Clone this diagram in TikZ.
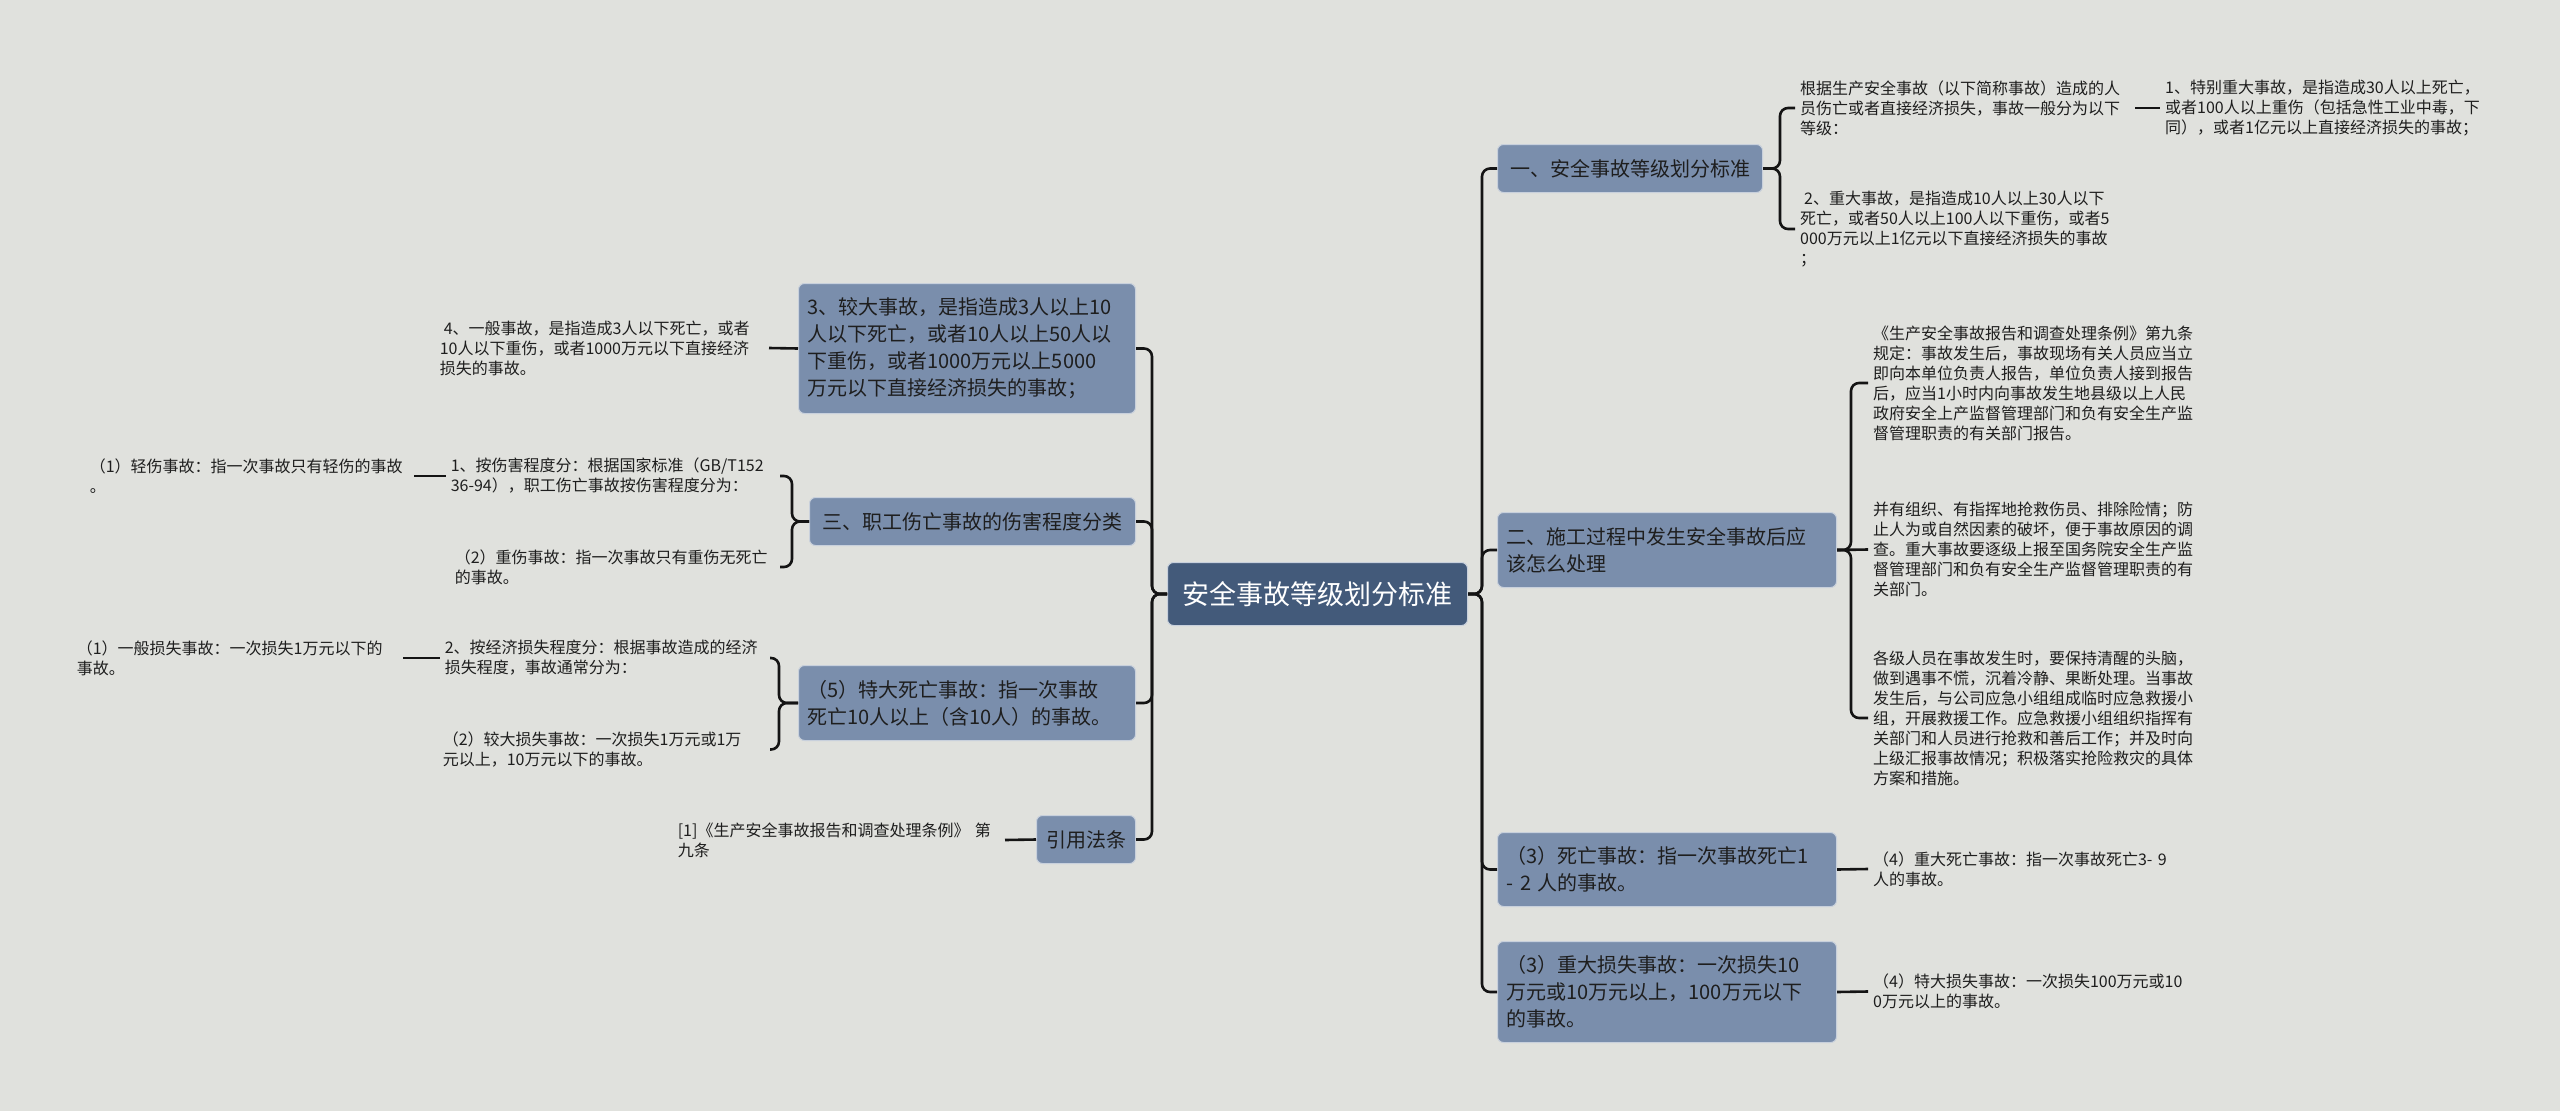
\documentclass[tikz,border=0pt]{standalone}
\usepackage{fontspec}
\setmainfont{Noto Sans CJK SC}
\definecolor{bgc}{RGB}{224,225,221}
\definecolor{nodefill}{RGB}{122,142,172}
\definecolor{nodeborder}{RGB}{200,208,220}
\definecolor{rootfill}{RGB}{67,90,122}
\definecolor{txt}{RGB}{30,30,30}
\definecolor{linec}{RGB}{20,20,20}
\tikzset{
  conn/.style={line width=2.6pt, draw=linec, rounded corners=8pt},
  box/.style={rectangle, rounded corners=6pt, fill=nodefill, draw=nodeborder, line width=1pt,
    text=txt, font=\fontsize{20}{27}\selectfont, inner xsep=9pt, inner ysep=3pt, align=left, anchor=north west},
  rootbox/.style={rectangle, rounded corners=6pt, fill=rootfill, draw=nodeborder, line width=1pt,
    text=white, font=\fontsize{27}{32}\selectfont, inner xsep=9pt, inner ysep=3pt, align=center, anchor=north west},
  leafr/.style={inner xsep=5pt, inner ysep=2pt, align=left, text=txt, font=\fontsize{16}{20}\selectfont, anchor=west, text width=330pt},
  leafl/.style={inner xsep=5pt, inner ysep=2pt, align=left, text=txt, font=\fontsize{16}{20}\selectfont, anchor=east},
}
\begin{document}
\begin{tikzpicture}[x=1pt,y=-1pt]
\fill[bgc] (0,0) rectangle (2560,1111);
\useasboundingbox (0,0) rectangle (2560,1111);

% root
\node[rootbox, minimum width=300pt, minimum height=63pt, text width=282pt] (root) at (1167,562) {安全事故等级划分标准};

% right branch nodes
\node[box, align=center, minimum width=265pt, minimum height=48pt, text width=247pt] (n1) at (1497,144) {一、安全事故等级划分标准};
\node[box, minimum width=339pt, minimum height=75pt, text width=321pt] (n2) at (1497,512) {二、施工过程中发生安全事故后应\\该怎么处理};
\node[box, minimum width=339pt, minimum height=74pt, text width=321pt] (n3) at (1497,832) {（3）死亡事故：指一次事故死亡1\\- 2 人的事故。};
\node[box, minimum width=339pt, minimum height=101pt, text width=321pt] (n4) at (1497,941) {（3）重大损失事故：一次损失10\\万元或10万元以上，100万元以下\\的事故。};

% right leaves
\node[leafr] (n1a) at (1795,108) {根据生产安全事故（以下简称事故）造成的人\\员伤亡或者直接经济损失，事故一般分为以下\\等级：};
\node[leafr] (n1a1) at (2160,108) {1、特别重大事故，是指造成30人以上死亡，\\或者100人以上重伤（包括急性工业中毒，下\\同），或者1亿元以上直接经济损失的事故；};
\node[leafr] (n1b) at (1795,229) {\hspace*{4pt}2、重大事故，是指造成10人以上30人以下\\死亡，或者50人以上100人以下重伤，或者5\\000万元以上1亿元以下直接经济损失的事故\\；};
\node[leafr] (n2a) at (1868,383) {《生产安全事故报告和调查处理条例》第九条\\规定：事故发生后，事故现场有关人员应当立\\即向本单位负责人报告，单位负责人接到报告\\后，应当1小时内向事故发生地县级以上人民\\政府安全上产监督管理部门和负有安全生产监\\督管理职责的有关部门报告。};
\node[leafr] (n2b) at (1868,549.5) {并有组织、有指挥地抢救伤员、排除险情；防\\止人为或自然因素的破坏，便于事故原因的调\\查。重大事故要逐级上报至国务院安全生产监\\督管理部门和负有安全生产监督管理职责的有\\关部门。};
\node[leafr] (n2c) at (1868,718) {各级人员在事故发生时，要保持清醒的头脑，\\做到遇事不慌，沉着冷静、果断处理。当事故\\发生后，与公司应急小组组成临时应急救援小\\组，开展救援工作。应急救援小组组织指挥有\\关部门和人员进行抢救和善后工作；并及时向\\上级汇报事故情况；积极落实抢险救灾的具体\\方案和措施。};
\node[leafr] (n3a) at (1868,869) {（4）重大死亡事故：指一次事故死亡3- 9\\人的事故。};
\node[leafr] (n4a) at (1868,991.5) {（4）特大损失事故：一次损失100万元或10\\0万元以上的事故。};

% left branch nodes
\node[box, minimum width=337pt, minimum height=130pt, text width=319pt] (L1) at (798,283) {3、较大事故，是指造成3人以上10\\人以下死亡，或者10人以上50人以\\下重伤，或者1000万元以上5000\\万元以下直接经济损失的事故；};
\node[box, align=center, minimum width=326pt, minimum height=48pt, text width=308pt] (L2) at (809,497) {三、职工伤亡事故的伤害程度分类};
\node[box, minimum width=337pt, minimum height=75pt, text width=319pt] (L3) at (798,665) {（5）特大死亡事故：指一次事故\\死亡10人以上（含10人）的事故。};
\node[box, align=center, minimum width=99pt, minimum height=48pt, text width=81pt] (L4) at (1036,815) {引用法条};

% left leaves
\node[leafl, text width=324pt] (L1a) at (769,348) {\hspace*{4pt}4、一般事故，是指造成3人以下死亡，或者\\10人以下重伤，或者1000万元以下直接经济\\损失的事故。};
\node[leafl, text width=324pt] (L2a) at (780,476) {1、按伤害程度分：根据国家标准（GB/T152\\36-94），职工伤亡事故按伤害程度分为：};
\node[leafl, text width=320pt] (L2b) at (780,567) {（2）重伤事故：指一次事故只有重伤无死亡\\的事故。};
\node[leafl, text width=319pt] (L2a1) at (414,476) {（1）轻伤事故：指一次事故只有轻伤的事故\\。};
\node[leafl, text width=320pt] (L3a) at (770,658) {2、按经济损失程度分：根据事故造成的经济\\损失程度，事故通常分为：};
\node[leafl, text width=322pt] (L3b) at (770,749.5) {（2）较大损失事故：一次损失1万元或1万\\元以上，10万元以下的事故。};
\node[leafl, text width=321pt] (L3a1) at (403,658) {（1）一般损失事故：一次损失1万元以下的\\事故。};
\node[leafl, text width=322pt] (L4a) at (1005,840) {[1]《生产安全事故报告和调查处理条例》 第\\九条};

% spine / bracket coordinates
\coordinate (sR) at (1482,593.5);
\coordinate (sL) at (1152,593.5);
\coordinate (b1) at (1780,168);
\coordinate (b2) at (1851,549.5);
\coordinate (bL2) at (792,521);
\coordinate (bL3) at (779,702.5);

% connectors right
\draw[conn] (root.east) -| (sR |- n1.west) -- (n1.west);
\draw[conn] (root.east) -| (sR |- n2.west) -- (n2.west);
\draw[conn] (root.east) -| (sR |- n3.west) -- (n3.west);
\draw[conn] (root.east) -| (sR |- n4.west) -- (n4.west);
\draw[conn] (n1.east) -| (b1 |- n1a.west) -- (n1a.west);
\draw[conn] (n1.east) -| (b1 |- n1b.west) -- (n1b.west);
\draw[conn] (n1a.east) -- (n1a1.west);
\draw[conn] (n2.east) -| (b2 |- n2a.west) -- (n2a.west);
\draw[conn] (n2.east) -- (n2b.west);
\draw[conn] (n2.east) -| (b2 |- n2c.west) -- (n2c.west);
\draw[conn] (n3.east) -- (n3a.west);
\draw[conn] (n4.east) -- (n4a.west);

% connectors left
\draw[conn] (root.west) -| (sL |- L1.east) -- (L1.east);
\draw[conn] (root.west) -| (sL |- L2.east) -- (L2.east);
\draw[conn] (root.west) -| (sL |- L3.east) -- (L3.east);
\draw[conn] (root.west) -| (sL |- L4.east) -- (L4.east);
\draw[conn] (L1.west) -- (L1a.east);
\draw[conn] (L2.west) -| (bL2 |- L2a.east) -- (L2a.east);
\draw[conn] (L2.west) -| (bL2 |- L2b.east) -- (L2b.east);
\draw[conn] (L2a.west) -- (L2a1.east);
\draw[conn] (L3.west) -| (bL3 |- L3a.east) -- (L3a.east);
\draw[conn] (L3.west) -| (bL3 |- L3b.east) -- (L3b.east);
\draw[conn] (L3a.west) -- (L3a1.east);
\draw[conn] (L4.west) -- (L4a.east);
\end{tikzpicture}
\end{document}
